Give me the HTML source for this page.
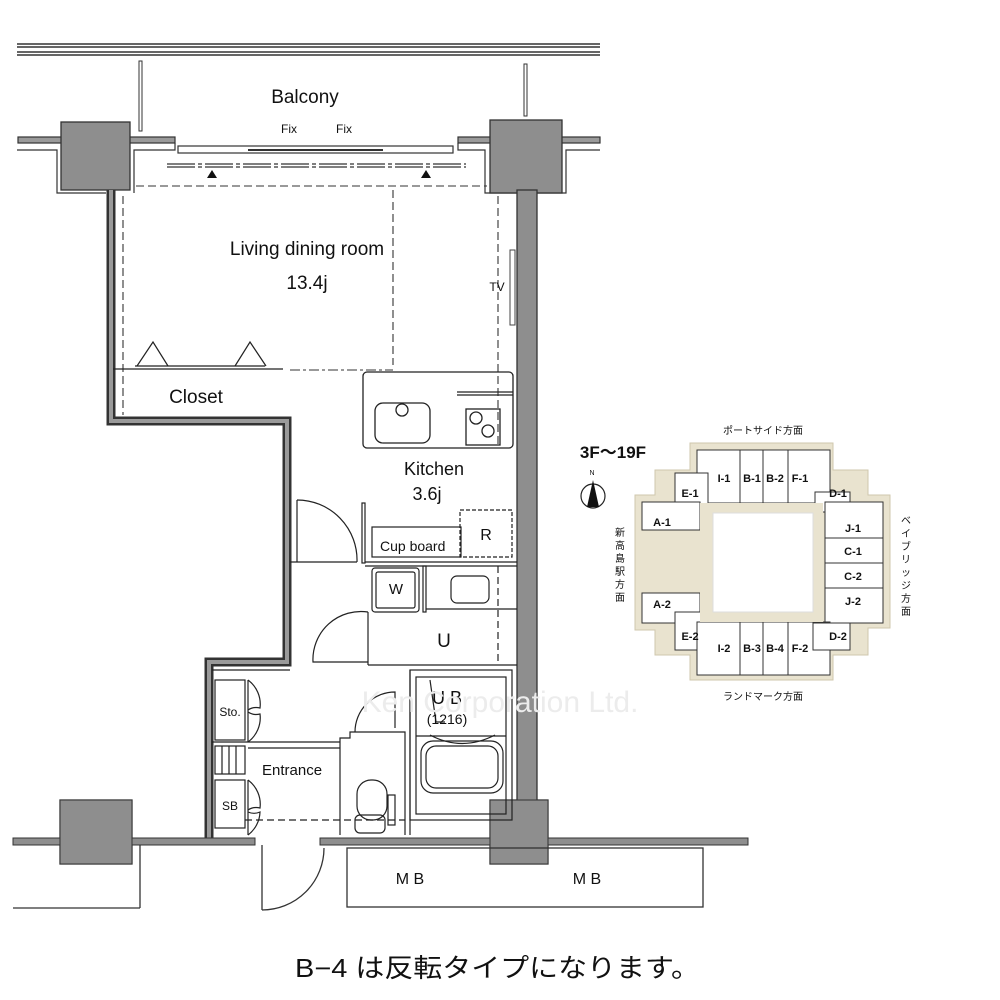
<!DOCTYPE html>
<html><head><meta charset="utf-8"><style>
html,body{margin:0;padding:0;background:#fff}
svg{display:block}
text{font-family:"Liberation Sans","Noto Sans CJK JP",sans-serif;fill:#111}
</style></head><body>
<svg width="1000" height="1000" viewBox="0 0 1000 1000" xmlns="http://www.w3.org/2000/svg">
<rect width="1000" height="1000" fill="#fff"/>
<!-- top rails -->
<g stroke="#333" stroke-width="1.5">
<line x1="17" y1="44" x2="600" y2="44"/><line x1="17" y1="47" x2="600" y2="47"/>
<line x1="17" y1="52" x2="600" y2="52"/><line x1="17" y1="55" x2="600" y2="55"/>
</g>
<rect x="139" y="61" width="3" height="70" fill="none" stroke="#333"/>
<rect x="524" y="64" width="3" height="52" fill="none" stroke="#333"/>
<text x="305" y="103" font-size="19" text-anchor="middle">Balcony</text>
<text x="289" y="133" font-size="12" text-anchor="middle">Fix</text>
<text x="344" y="133" font-size="12" text-anchor="middle">Fix</text>
<!-- wall stubs -->
<g fill="#9a9a9a" stroke="#333" stroke-width="1.2">
<rect x="18" y="137" width="157" height="6"/>
<rect x="458" y="137" width="142" height="6"/>
</g>
<g stroke="#333" fill="none" stroke-width="1.2">
<path d="M17,150 L57,150 L57,193 L106,193"/>
<path d="M134,193 L134,150 L175,150 L175,143"/>
<path d="M458,143 L458,150 L485,150 L485,193 L517,193"/>
<path d="M537,193 L566,193 L566,150 L600,150"/>
</g>
<!-- columns -->
<g fill="#8e8e8e" stroke="#333" stroke-width="1.3">
<rect x="61" y="122" width="69" height="68"/>
<rect x="490" y="120" width="72" height="73"/>
<rect x="60" y="800" width="72" height="64"/>
<rect x="490" y="800" width="58" height="64"/>
</g>
<!-- window -->
<g stroke="#333" fill="none" stroke-width="1.2">
<rect x="178" y="146" width="275" height="7"/>
<line x1="248" y1="150" x2="383" y2="150" stroke-width="2"/>
<line x1="167" y1="164" x2="466" y2="164" stroke-dasharray="28 3 4 3"/>
<line x1="167" y1="167" x2="466" y2="167" stroke-dasharray="28 3 4 3"/>
</g>
<polygon points="207,178 217,178 212,170" fill="#111"/>
<polygon points="421,178 431,178 426,170" fill="#111"/>
<!-- dashed living lines -->
<g stroke="#333" stroke-width="1.1" fill="none" stroke-dasharray="8 4">
<line x1="136" y1="186" x2="487" y2="186"/>
<line x1="123" y1="196" x2="123" y2="415"/>
<line x1="393" y1="190" x2="393" y2="365"/>
<line x1="498" y1="196" x2="498" y2="445"/>
<line x1="290" y1="370" x2="393" y2="370" stroke-dasharray="10 3 3 3"/>
</g>
<!-- outer wall left -->
<path d="M111,190 L111,421 L287,421 L287,662 L209,662 L209,838" fill="none" stroke="#333" stroke-width="9"/>
<path d="M111,190 L111,421 L287,421 L287,662 L209,662 L209,838" fill="none" stroke="#9a9a9a" stroke-width="4"/>
<!-- right wall -->
<rect x="517" y="190" width="20" height="612" fill="#8e8e8e" stroke="#333" stroke-width="1.3"/>
<!-- bottom wall -->
<g fill="#8e8e8e" stroke="#333">
<rect x="13" y="838" width="242" height="7"/>
<rect x="320" y="838" width="428" height="7"/>
</g>
<rect x="60" y="800" width="72" height="64" fill="#8e8e8e" stroke="#333"/>
<rect x="490" y="800" width="58" height="64" fill="#8e8e8e" stroke="#333"/>
<g stroke="#333" fill="none" stroke-width="1.3">
<line x1="140" y1="845" x2="140" y2="908"/><line x1="13" y1="908" x2="140" y2="908"/>
<rect x="347" y="848" width="356" height="59"/>
<line x1="262" y1="845" x2="262" y2="910"/>
<path d="M262,910 A62,62 0 0 0 324,848"/>
</g>
<text x="410" y="884" font-size="16" text-anchor="middle">M B</text>
<text x="587" y="884" font-size="16" text-anchor="middle">M B</text>
<!-- living text -->
<text x="307" y="255" font-size="19" text-anchor="middle">Living dining room</text>
<text x="307" y="289" font-size="19" text-anchor="middle">13.4j</text>
<text x="497" y="291" font-size="12" text-anchor="middle">TV</text>
<rect x="510" y="250" width="5" height="75" fill="#fff" stroke="#444"/>
<!-- closet -->
<g stroke="#222" fill="none" stroke-width="1.2">
<path d="M137,366 L153,342 L168,366"/><path d="M235,366 L250,342 L266,366"/>
<line x1="113" y1="369" x2="283" y2="369"/><line x1="135" y1="366" x2="265" y2="366"/>
</g>
<text x="196" y="403" font-size="19" text-anchor="middle">Closet</text>
<!-- kitchen -->
<g stroke="#222" fill="none" stroke-width="1.3">
<rect x="363" y="372" width="150" height="76" rx="4"/>
<line x1="457" y1="392" x2="513" y2="392"/><line x1="457" y1="395" x2="513" y2="395"/>
<rect x="375" y="403" width="55" height="40" rx="8"/>
<circle cx="402" cy="410" r="6"/>
<rect x="466" y="409" width="34" height="36"/>
<circle cx="476" cy="418" r="6"/><circle cx="488" cy="431" r="6"/>
</g>
<text x="434" y="475" font-size="18" text-anchor="middle">Kitchen</text>
<text x="427" y="500" font-size="18" text-anchor="middle">3.6j</text>
<g stroke="#222" fill="none" stroke-width="1.2">
<line x1="297" y1="500" x2="297" y2="562"/>
<path d="M297,500 A60,60 0 0 1 357,562"/>
<line x1="290" y1="562" x2="357" y2="562"/>
<rect x="362" y="503" width="3" height="60"/>
<rect x="372" y="527" width="89" height="30"/>
<rect x="460" y="510" width="52" height="47" stroke-dasharray="4 2"/>
<line x1="365" y1="562" x2="517" y2="562"/><line x1="365" y1="566" x2="517" y2="566"/>
<rect x="372" y="568" width="47" height="44" rx="3"/><rect x="376" y="572" width="39" height="36" rx="2"/>
<rect x="423" y="566" width="3" height="46"/>
<line x1="426" y1="609" x2="517" y2="609"/>
<rect x="451" y="576" width="38" height="27" rx="6"/>
<line x1="498" y1="566" x2="498" y2="665" stroke-dasharray="7 4"/>
<line x1="368" y1="612" x2="368" y2="665"/>
<line x1="368" y1="665" x2="517" y2="665"/>
<path d="M368,612 A48,48 0 0 0 313,662 L368,662"/>
</g>
<text x="380" y="551" font-size="14">Cup board</text>
<text x="486" y="540" font-size="16" text-anchor="middle">R</text>
<text x="396" y="594" font-size="15" text-anchor="middle">W</text>
<text x="444" y="647" font-size="19" text-anchor="middle">U</text>
<!-- UB -->
<g stroke="#222" fill="none" stroke-width="1.2">
<rect x="410" y="670" width="102" height="150"/>
<rect x="416" y="677" width="90" height="137"/>
<line x1="416" y1="736" x2="506" y2="736"/>
<rect x="421" y="741" width="82" height="52" rx="12"/>
<rect x="426" y="746" width="72" height="42" rx="10"/>
<path d="M430,735 Q462,752 495,735"/>
<path d="M430,680 L436,722 L445,722"/>
</g>
<text x="447" y="704" font-size="18" text-anchor="middle">U B</text>
<text x="447" y="724" font-size="14" text-anchor="middle">(1216)</text>
<!-- toilet room -->
<g stroke="#222" fill="none" stroke-width="1.2">
<path d="M340,835 L340,738 L350,738 L350,732 L405,732 L405,835"/>
<line x1="410" y1="670" x2="410" y2="835"/>
<path d="M355,732 A40,40 0 0 1 395,692 L395,728"/>
<rect x="357" y="780" width="30" height="40" rx="14"/>
<rect x="355" y="815" width="30" height="18" rx="5"/>
<rect x="388" y="795" width="7" height="30"/>
<line x1="245" y1="820" x2="405" y2="820" stroke-dasharray="7 4"/>
</g>
<!-- sto / sb / entrance -->
<g stroke="#222" fill="none" stroke-width="1.2">
<line x1="212" y1="670" x2="290" y2="670"/>
<rect x="215" y="680" width="30" height="60"/>
<line x1="248" y1="680" x2="248" y2="742"/>
<path d="M248,680 A30,30 0 0 1 260,708 A15,15 0 0 0 248,710"/>
<path d="M248,742 A30,30 0 0 0 260,714 A15,15 0 0 1 248,712"/>
<line x1="212" y1="742" x2="340" y2="742"/><line x1="248" y1="748" x2="340" y2="748"/>
<rect x="215" y="746" width="30" height="28"/>
<line x1="222" y1="746" x2="222" y2="774"/><line x1="229" y1="746" x2="229" y2="774"/><line x1="236" y1="746" x2="236" y2="774"/>
<rect x="215" y="780" width="30" height="48"/>
<line x1="248" y1="780" x2="248" y2="835"/>
<path d="M248,780 A30,30 0 0 1 260,808 A15,15 0 0 0 248,810"/>
<path d="M248,835 A30,30 0 0 0 260,812 A15,15 0 0 1 248,812"/>
</g>
<text x="230" y="716" font-size="12" text-anchor="middle">Sto.</text>
<text x="230" y="810" font-size="12" text-anchor="middle">SB</text>
<text x="262" y="775" font-size="15">Entrance</text>
<!-- watermark -->
<text x="500" y="712" font-size="30" text-anchor="middle" style="fill:#ececec">Ken Corporation Ltd.</text>
<!-- keyplan -->
<text x="613" y="458" font-size="17" font-weight="bold" text-anchor="middle">3F～19F</text>
<text x="592" y="475" font-size="7" text-anchor="middle">N</text>
<circle cx="593" cy="496" r="12" fill="#fff" stroke="#222" stroke-width="1.2"/>
<polygon points="593,480 587,507 599,507" fill="#111"/>
<polygon points="690,443 833,443 833,470 868,470 868,495 890,495 890,628 868,628 868,655 833,655 833,680 690,680 690,655 655,655 655,630 635,630 635,495 655,495 655,470 690,470" fill="#e9e3cf" stroke="#cfc7ad"/>
<g fill="#fff" stroke="#333" stroke-width="1">
<rect x="697" y="450" width="133" height="53"/>
<rect x="675" y="473" width="33" height="40"/>
<rect x="642" y="502" width="58" height="28"/>
<rect x="815" y="492" width="35" height="20"/>
<rect x="825" y="502" width="58" height="121"/>
<rect x="642" y="593" width="58" height="30"/>
<rect x="675" y="612" width="33" height="38"/>
<rect x="697" y="622" width="133" height="53"/>
<rect x="813" y="623" width="37" height="27"/>
</g>
<rect x="700" y="503" width="123" height="119" fill="#e9e3cf"/>
<rect x="713" y="513" width="100" height="99" fill="#fff" stroke="#ddd"/>
<g stroke="#333" stroke-width="1">
<line x1="740" y1="450" x2="740" y2="503"/><line x1="763" y1="450" x2="763" y2="503"/><line x1="788" y1="450" x2="788" y2="503"/>
<line x1="740" y1="622" x2="740" y2="675"/><line x1="763" y1="622" x2="763" y2="675"/><line x1="788" y1="622" x2="788" y2="675"/>
<line x1="825" y1="538" x2="883" y2="538"/><line x1="825" y1="563" x2="883" y2="563"/><line x1="825" y1="588" x2="883" y2="588"/>
</g>
<g font-size="11" font-weight="bold" text-anchor="middle">
<text x="724" y="482">I-1</text><text x="752" y="482">B-1</text><text x="775" y="482">B-2</text><text x="800" y="482">F-1</text>
<text x="690" y="497">E-1</text><text x="838" y="497">D-1</text><text x="662" y="526">A-1</text>
<text x="853" y="532">J-1</text><text x="853" y="555">C-1</text><text x="853" y="580">C-2</text><text x="853" y="605">J-2</text>
<text x="662" y="608">A-2</text><text x="690" y="640">E-2</text><text x="838" y="640">D-2</text>
<text x="724" y="652">I-2</text><text x="752" y="652">B-3</text><text x="775" y="652">B-4</text><text x="800" y="652">F-2</text>
</g>
<text x="763" y="434" font-size="10" text-anchor="middle">ポートサイド方面</text>
<text x="763" y="700" font-size="10" text-anchor="middle">ランドマーク方面</text>
<g font-size="10" text-anchor="middle">
<text x="620" y="536">新</text><text x="620" y="549">高</text><text x="620" y="562">島</text><text x="620" y="575">駅</text><text x="620" y="588">方</text><text x="620" y="601">面</text>
<text x="906" y="524">ベ</text><text x="906" y="537">イ</text><text x="906" y="550">ブ</text><text x="906" y="563">リ</text><text x="906" y="576">ッ</text><text x="906" y="589">ジ</text><text x="906" y="602">方</text><text x="906" y="615">面</text>
</g>
<text x="295" y="977" font-size="26" textLength="405" lengthAdjust="spacingAndGlyphs">B−4 は反転タイプになります。</text>
</svg>
</body></html>
